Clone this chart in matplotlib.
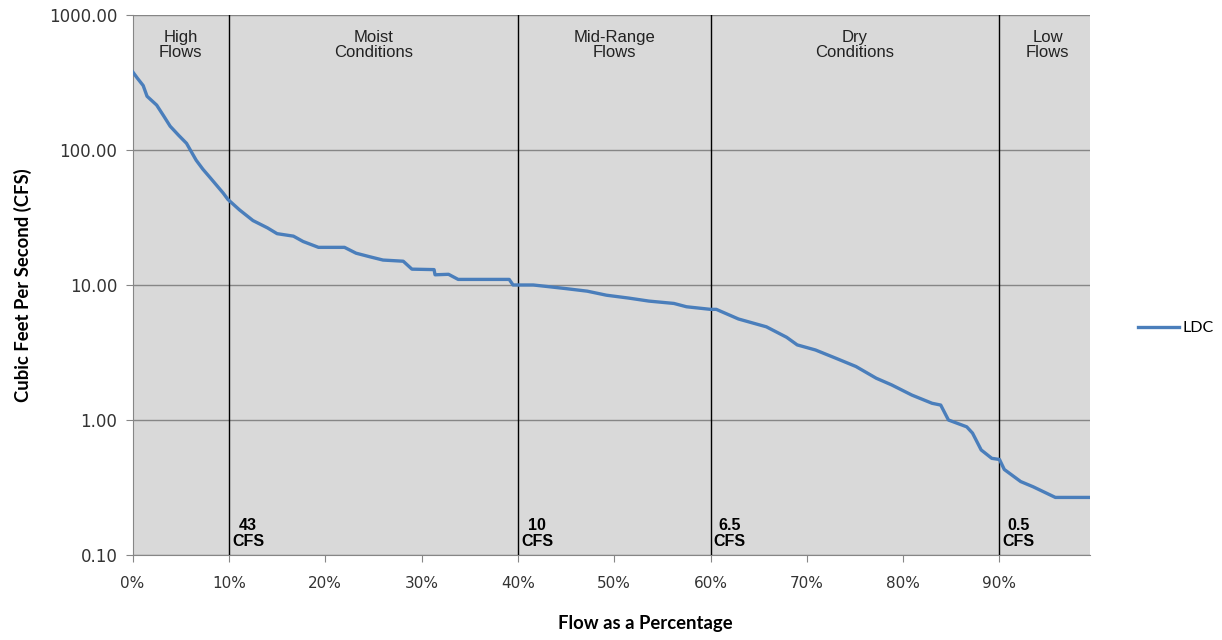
import numpy as np
import matplotlib.pyplot as plt
from matplotlib.ticker import FixedLocator, FuncFormatter

# load duration curve (percent exceeded, cfs)
pct = [0.0, 0.5, 1.1, 1.5, 2.5, 3.2, 3.9, 4.8, 5.6, 6.6, 7.3, 8.0, 8.7, 9.4, 9.9,
       11.1, 12.5, 14.0, 15.0, 16.7, 17.7, 19.3, 22.0, 23.2, 24.6, 26.0, 28.1,
       29.0, 31.3, 31.4, 32.8, 33.8, 39.1, 39.5, 41.6, 43.3, 45.0, 47.2, 49.2,
       51.5, 53.6, 56.2, 57.5, 60.0, 60.6, 62.9, 65.8, 67.9, 69.0, 70.9, 73.0,
       75.1, 77.2, 78.8, 80.9, 83.0, 83.9, 84.7, 86.6, 87.2, 88.1, 89.2, 90.0,
       90.5, 92.2, 93.5, 95.8, 99.4]
cfs = [380, 340, 300, 250, 215, 180, 150, 128, 112, 84, 72, 63, 55, 48, 43,
       36, 30, 26.5, 24, 23, 21, 19, 19, 17.2, 16.2, 15.3, 15,
       13.1, 13, 11.9, 12, 11.0, 11.0, 10.0, 10.0, 9.7, 9.4, 9.0, 8.4,
       8.0, 7.6, 7.3, 6.9, 6.6, 6.6, 5.6, 4.9, 4.1, 3.6, 3.3, 2.87,
       2.49, 2.04, 1.82, 1.53, 1.33, 1.29, 1.0, 0.89, 0.80, 0.60, 0.52, 0.51,
       0.43, 0.35, 0.32, 0.267, 0.267]

zone_edges = [10, 40, 60, 90]
zone_names = ["High\nFlows", "Moist\nConditions", "Mid-Range\nFlows",
              "Dry\nConditions", "Low\nFlows"]
zone_centers = [5, 25, 50, 75, 95]
edge_labels = ["43\nCFS", "10\nCFS", "6.5\nCFS", "0.5\nCFS"]

fig = plt.figure(figsize=(12.22, 6.4), dpi=100)
ax = fig.add_axes([0.1085, 0.1328, 0.7835, 0.8438])
ax.set_facecolor("#d9d9d9")

ax.set_yscale("log")
ax.set_ylim(0.1, 1000)
ax.set_xlim(0, 99.4)

ax.yaxis.set_major_locator(FixedLocator([0.1, 1, 10, 100, 1000]))
ax.yaxis.set_minor_locator(FixedLocator([]))
ax.yaxis.set_major_formatter(FuncFormatter(lambda v, p: "%.2f" % v))
ax.set_xticks(range(0, 100, 10))
ax.xaxis.set_major_formatter(FuncFormatter(lambda v, p: "%d%%" % v))

ax.grid(axis="y", color="#868686", lw=1.0)
ax.set_axisbelow(True)
for s in ["top", "right"]:
    ax.spines[s].set_visible(False)
for s in ["left", "bottom"]:
    ax.spines[s].set_color("#868686")
ax.tick_params(axis="both", colors="#868686", length=5, labelcolor="#333333",
               direction="out")
ax.tick_params(axis="y", labelsize=12, pad=6)
ax.tick_params(axis="x", labelsize=11, pad=10)

for xe in zone_edges:
    ax.axvline(xe, color="black", lw=1.0, zorder=3)

ax.plot(pct, cfs, color="#4a7ebb", lw=2.4, label="LDC", zorder=4)

for name, xc in zip(zone_names, zone_centers):
    ax.text(xc, 0.972, name, transform=ax.get_xaxis_transform(), ha="center",
            va="top", fontsize=12, family="Liberation Sans", color="#222222",
            linespacing=1.0)

for lab, xe in zip(edge_labels, zone_edges):
    ax.text(xe + 2.0, 0.012, lab, transform=ax.get_xaxis_transform(),
            ha="center", va="bottom", fontsize=11.5, fontweight="bold",
            family="Liberation Sans", color="black", linespacing=1.05)

ax.set_ylabel("Cubic Feet Per Second (CFS)", fontsize=13.3, fontweight="bold",
              family="Lato", labelpad=12)
ax.set_xlabel("Flow as a Percentage", fontsize=13.3, fontweight="bold",
              family="Lato")
ax.xaxis.set_label_coords(0.5355, -0.112)

leg = ax.legend(loc="center left", bbox_to_anchor=(1.035, 0.42), frameon=False,
                handlelength=2.6, handletextpad=0.2,
                prop={"family": "Lato", "size": 11.5})

fig.savefig("out.png", dpi=100)
